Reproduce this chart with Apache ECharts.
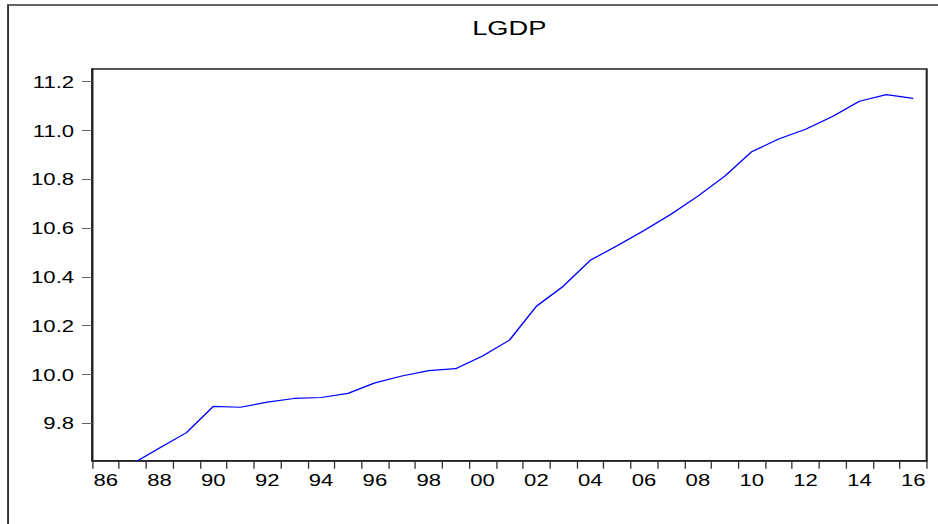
<!DOCTYPE html>
<html><head><meta charset="utf-8">
<script src="https://cdn.jsdelivr.net/npm/echarts@6/dist/echarts.min.js"></script>
<style>
html,body{margin:0;padding:0;background:#fff;overflow:hidden;}
#wrap{width:938px;height:524px;overflow:hidden;position:relative;background:#fff;}
#chart{width:722px;height:524px;transform:scaleX(1.29917);transform-origin:0 0;}
</style></head><body><div id="wrap"><div id="chart"></div></div>
<script>
const chartTitle = 'LGDP';
const categories = ['1986','1987','1988','1989','1990','1991','1992','1993','1994','1995',
  '1996','1997','1998','1999','2000','2001','2002','2003','2004','2005',
  '2006','2007','2008','2009','2010','2011','2012','2013','2014','2015','2016'];
const lgdp = [9.590, 9.635, 9.699, 9.762, 9.870, 9.866, 9.887, 9.902, 9.906, 9.923,
  9.966, 9.994, 10.016, 10.024, 10.076, 10.141, 10.280, 10.362, 10.468, 10.528,
  10.590, 10.657, 10.731, 10.813, 10.913, 10.965, 11.005, 11.057, 11.120, 11.147, 11.132];
const yTicks = [9.8, 10.0, 10.2, 10.4, 10.6, 10.8, 11.0, 11.2];
const yMin = 9.647, yMax = 11.252;

const chart = echarts.init(document.getElementById('chart'), null, {renderer: 'svg'});
const font = 'Liberation Sans, Arial, Helvetica, sans-serif';
chart.setOption({
  animation: false,
  backgroundColor: '#fff',
  title: {
    text: chartTitle, left: 392, top: 17, padding: 0, textAlign: 'center',
    textStyle: {fontSize: 21, fontWeight: 'normal', color: '#000', fontFamily: font}
  },
  graphic: [{
    type: 'rect', silent: true, z: -10,
    shape: {x: 6.2, y: 5, width: 800, height: 600},
    style: {fill: 'none', stroke: '#333', lineWidth: 1.5}
  }],
  grid: {left: 71, right: 8.7, top: 69, bottom: 63.3, show: true,
         borderColor: '#222', borderWidth: 1.6, backgroundColor: 'transparent'},
  xAxis: {
    type: 'category', data: categories, boundaryGap: true,
    axisLine: {show: true, lineStyle: {color: '#222', width: 1.6}},
    axisTick: {show: true, interval: 0, length: 8, alignWithLabel: false,
               lineStyle: {color: '#333', width: 1}},
    axisLabel: {interval: 1, formatter: v => v.slice(2), fontSize: 17, color: '#000',
                margin: 11, fontFamily: font},
    splitLine: {show: false}
  },
  yAxis: {
    type: 'value', min: yMin, max: yMax, scale: true,
    axisLine: {show: true, lineStyle: {color: '#222', width: 1.6}},
    axisTick: {show: true, length: 8, customValues: yTicks, lineStyle: {color: '#666', width: 1}},
    axisLabel: {customValues: yTicks, formatter: v => v.toFixed(1), fontSize: 17,
                color: '#000', margin: 14, fontFamily: font},
    splitLine: {show: false}
  },
  series: [{
    type: 'line', data: lgdp, symbol: 'none', clip: true,
    lineStyle: {color: '#0000ff', width: 1.2}
  }]
});
</script></body></html>
